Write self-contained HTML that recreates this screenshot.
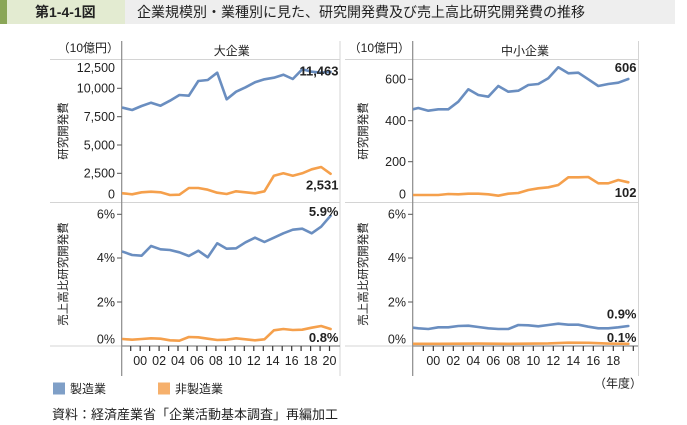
<!DOCTYPE html>
<html><head><meta charset="utf-8"><style>
html,body{margin:0;padding:0;background:#fff;}
svg{display:block;}
text{font-family:"Liberation Sans","Noto Sans CJK JP",sans-serif;fill:#222;}
</style></head><body>
<svg width="687" height="425" viewBox="0 0 687 425" xmlns="http://www.w3.org/2000/svg">
<defs>
<clipPath id="cl"><rect x="122" y="40" width="218" height="310"/></clipPath>
<clipPath id="cr"><rect x="413" y="40" width="225" height="310"/></clipPath>
</defs>
<!-- title bar -->
<rect x="0" y="0" width="675" height="24" fill="#eeeeee"/>
<rect x="0" y="0" width="125" height="24" fill="#e3ebd1"/>
<rect x="0" y="0" width="7" height="24" fill="#8aa657"/>
<text x="35" y="17" font-size="14" font-weight="bold" fill="#333">第1-4-1図</text>
<text x="137" y="17" font-size="14" fill="#333">企業規模別・業種別に見た、研究開発費及び売上高比研究開発費の推移</text>

<!-- frames -->
<g stroke="#d4d4d4" stroke-width="1" fill="none">
<line x1="50" y1="59.5" x2="340" y2="59.5"/>
<line x1="50" y1="202.5" x2="340" y2="202.5"/>
<line x1="50" y1="346" x2="122" y2="346"/>
<line x1="340" y1="41" x2="340" y2="376"/>
<line x1="345" y1="59.5" x2="638" y2="59.5"/>
<line x1="345" y1="202.5" x2="638" y2="202.5"/>
<line x1="345" y1="346" x2="413" y2="346"/>
<line x1="638.5" y1="41" x2="638.5" y2="376"/>
</g>
<g stroke="#8a8a8a" stroke-width="1.2" fill="none">
<line x1="121.7" y1="41" x2="121.7" y2="376"/>
<line x1="121.7" y1="346" x2="340" y2="346"/>
<line x1="412.7" y1="41" x2="412.7" y2="376"/>
<line x1="412.7" y1="346" x2="638" y2="346"/>
</g>
<!-- y ticks -->
<g stroke="#555" stroke-width="1">
<line x1="117" y1="88.3" x2="121.7" y2="88.3"/>
<line x1="117" y1="116.7" x2="121.7" y2="116.7"/>
<line x1="117" y1="145" x2="121.7" y2="145"/>
<line x1="117" y1="173.3" x2="121.7" y2="173.3"/>
<line x1="117" y1="214.3" x2="121.7" y2="214.3"/>
<line x1="117" y1="258" x2="121.7" y2="258"/>
<line x1="117" y1="302" x2="121.7" y2="302"/>
<line x1="408" y1="79.3" x2="412.7" y2="79.3"/>
<line x1="408" y1="120.7" x2="412.7" y2="120.7"/>
<line x1="408" y1="161.7" x2="412.7" y2="161.7"/>
<line x1="408" y1="214.3" x2="412.7" y2="214.3"/>
<line x1="408" y1="258" x2="412.7" y2="258"/>
<line x1="408" y1="302" x2="412.7" y2="302"/>
</g>
<!-- x ticks -->
<g stroke="#333" stroke-width="1.2">
<line x1="130.7" y1="346" x2="130.7" y2="351"/><line x1="140.2" y1="346" x2="140.2" y2="351"/><line x1="149.6" y1="346" x2="149.6" y2="351"/><line x1="159.1" y1="346" x2="159.1" y2="351"/><line x1="168.6" y1="346" x2="168.6" y2="351"/><line x1="178" y1="346" x2="178" y2="351"/><line x1="187.5" y1="346" x2="187.5" y2="351"/><line x1="197" y1="346" x2="197" y2="351"/><line x1="206.5" y1="346" x2="206.5" y2="351"/><line x1="215.9" y1="346" x2="215.9" y2="351"/><line x1="225.4" y1="346" x2="225.4" y2="351"/><line x1="234.9" y1="346" x2="234.9" y2="351"/><line x1="244.3" y1="346" x2="244.3" y2="351"/><line x1="253.8" y1="346" x2="253.8" y2="351"/><line x1="263.3" y1="346" x2="263.3" y2="351"/><line x1="272.7" y1="346" x2="272.7" y2="351"/><line x1="282.2" y1="346" x2="282.2" y2="351"/><line x1="291.7" y1="346" x2="291.7" y2="351"/><line x1="301.1" y1="346" x2="301.1" y2="351"/><line x1="310.6" y1="346" x2="310.6" y2="351"/><line x1="320.1" y1="346" x2="320.1" y2="351"/><line x1="329.5" y1="346" x2="329.5" y2="351"/>
<line x1="423.3" y1="346" x2="423.3" y2="351"/><line x1="433.3" y1="346" x2="433.3" y2="351"/><line x1="443.3" y1="346" x2="443.3" y2="351"/><line x1="453.3" y1="346" x2="453.3" y2="351"/><line x1="463.3" y1="346" x2="463.3" y2="351"/><line x1="473.3" y1="346" x2="473.3" y2="351"/><line x1="483.3" y1="346" x2="483.3" y2="351"/><line x1="493.3" y1="346" x2="493.3" y2="351"/><line x1="503.3" y1="346" x2="503.3" y2="351"/><line x1="513.3" y1="346" x2="513.3" y2="351"/><line x1="523.3" y1="346" x2="523.3" y2="351"/><line x1="533.3" y1="346" x2="533.3" y2="351"/><line x1="543.3" y1="346" x2="543.3" y2="351"/><line x1="553.3" y1="346" x2="553.3" y2="351"/><line x1="563.3" y1="346" x2="563.3" y2="351"/><line x1="573.3" y1="346" x2="573.3" y2="351"/><line x1="583.3" y1="346" x2="583.3" y2="351"/><line x1="593.3" y1="346" x2="593.3" y2="351"/><line x1="603.3" y1="346" x2="603.3" y2="351"/><line x1="613.3" y1="346" x2="613.3" y2="351"/><line x1="623.3" y1="346" x2="623.3" y2="351"/><line x1="633.3" y1="346" x2="633.3" y2="351"/>
</g>

<!-- header texts -->
<text x="119" y="52" font-size="12" text-anchor="end">（10億円）</text>
<text x="231.7" y="55" font-size="12" text-anchor="middle">大企業</text>
<text x="410" y="52" font-size="12" text-anchor="end">（10億円）</text>
<text x="525" y="55" font-size="12" text-anchor="middle">中小企業</text>

<!-- y tick labels -->
<g font-size="12.5" text-anchor="end">
<text x="115" y="72">12,500</text>
<text x="115" y="92.6">10,000</text>
<text x="115" y="121">7,500</text>
<text x="115" y="149.3">5,000</text>
<text x="115" y="177.6">2,500</text>
<text x="115" y="198.3">0</text>
<text x="115" y="218.6">6%</text>
<text x="115" y="262">4%</text>
<text x="115" y="306.6">2%</text>
<text x="115" y="343.3">0%</text>
<text x="406" y="83.6">600</text>
<text x="406" y="125">400</text>
<text x="406" y="166">200</text>
<text x="406" y="198.3">0</text>
<text x="406" y="218.6">6%</text>
<text x="406" y="262">4%</text>
<text x="406" y="306.6">2%</text>
<text x="406" y="343.3">0%</text>
</g>
<!-- x tick labels -->
<g font-size="12.5" text-anchor="middle">
<text x="140.2" y="365">00</text><text x="159.1" y="365">02</text><text x="178" y="365">04</text><text x="197" y="365">06</text><text x="215.9" y="365">08</text><text x="234.9" y="365">10</text><text x="253.8" y="365">12</text><text x="272.7" y="365">14</text><text x="291.7" y="365">16</text><text x="310.6" y="365">18</text><text x="329.5" y="365">20</text>
<text x="433.3" y="365">00</text><text x="453.3" y="365">02</text><text x="473.3" y="365">04</text><text x="493.3" y="365">06</text><text x="513.3" y="365">08</text><text x="533.3" y="365">10</text><text x="553.3" y="365">12</text><text x="573.3" y="365">14</text><text x="593.3" y="365">16</text><text x="613.3" y="365">18</text>
</g>

<!-- axis titles -->
<g font-size="11.5" text-anchor="middle">
<text transform="translate(67,131) rotate(-90)">研究開発費</text>
<text transform="translate(67,274) rotate(-90)">売上高比研究開発費</text>
<text transform="translate(367,131) rotate(-90)">研究開発費</text>
<text transform="translate(367,274) rotate(-90)">売上高比研究開発費</text>
</g>

<!-- series -->
<g fill="none" stroke-width="2.6" stroke-linejoin="round" stroke-linecap="round">
<g clip-path="url(#cl)">
<polyline stroke="#6a8ec0" points="122.7,107.7 132.15,110 141.6,106 151.05,102.7 160.5,105.7 169.95,100.7 179.4,95 188.85,95.7 198.3,81 207.75,80 217.2,72.7 226.65,99.3 236.1,91.7 245.55,87.3 255,82.3 264.45,79.3 273.9,77.7 283.35,74.7 292.8,79 302.25,69.3 311.7,71.7 321.15,72.7 330.6,71.8"/>
<polyline stroke="#f5a04c" points="122.7,193.3 132.15,194.3 141.6,192.3 151.05,191.7 160.5,192.3 169.95,195 179.4,194.7 188.85,188 198.3,188 207.75,189.7 217.2,192.7 226.65,194 236.1,191.3 245.55,192.3 255,193.3 264.45,191.3 273.9,175.7 283.35,173.3 292.8,175.7 302.25,173.3 311.7,169.3 321.15,167 330.6,173.8"/>
<polyline stroke="#6a8ec0" points="122.7,251.7 132.15,255 141.6,255.7 151.05,246 160.5,249.3 169.95,250 179.4,252.3 188.85,256 198.3,250.7 207.75,257.3 217.2,243.3 226.65,248.7 236.1,248.3 245.55,242.3 255,237.7 264.45,242 273.9,237.7 283.35,233.3 292.8,229.7 302.25,228.7 311.7,233.3 321.15,226.7 330.6,215.7"/>
<polyline stroke="#f5a04c" points="122.7,339 132.15,339.7 141.6,339 151.05,338.3 160.5,338.7 169.95,340.3 179.4,340.7 188.85,337 198.3,337.3 207.75,338.7 217.2,340 226.65,339.7 236.1,338.3 245.55,339.3 255,340.3 264.45,339.3 273.9,330.3 283.35,329 292.8,330 302.25,329.7 311.7,327.7 321.15,326 330.6,329"/>
</g>
<g clip-path="url(#cr)">
<polyline stroke="#6a8ec0" points="412.7,109.3 418.3,108 428.3,110.7 438.3,109.3 448.3,109.3 458.3,101.7 468.3,89.3 478.3,95 488.3,96.7 498.3,86 508.3,91.7 518.3,90.7 528.3,85 538.3,84 548.3,78.3 558.3,67.3 568.3,73.3 578.3,72.7 588.3,79.3 598.3,86 608.3,84 618.3,82.7 628.3,79"/>
<polyline stroke="#f5a04c" points="412.7,195 418.3,195 428.3,195 438.3,195 448.3,194 458.3,194.3 468.3,193.7 478.3,193.7 488.3,194.3 498.3,195.7 508.3,193.7 518.3,193 528.3,190 538.3,188.3 548.3,187.3 558.3,185 568.3,177.3 578.3,177.3 588.3,177 598.3,183.3 608.3,183.3 618.3,180 628.3,182.3"/>
<polyline stroke="#6a8ec0" points="412.7,327.7 418.3,328.3 428.3,329 438.3,327.3 448.3,327.3 458.3,326 468.3,325.7 478.3,327 488.3,328.3 498.3,329 508.3,329 518.3,325 528.3,325.3 538.3,326.3 548.3,325 558.3,323.7 568.3,324.7 578.3,324.7 588.3,326.7 598.3,328.3 608.3,328.3 618.3,327.3 628.3,326"/>
<polyline stroke="#f5a04c" points="412.7,343.8 438.3,343.8 478.3,343.6 508.3,343.8 548.3,343.4 568.3,342.7 588.3,342.8 608.3,343.6 628.3,343.8"/>
</g>
</g>

<!-- end labels -->
<g font-size="13" font-weight="bold" text-anchor="end" fill="#111">
<text x="338.5" y="75.5">11,463</text>
<text x="338.5" y="189.5">2,531</text>
<text x="338.5" y="216.2">5.9%</text>
<text x="338.5" y="342.2">0.8%</text>
<text x="636.5" y="72.2">606</text>
<text x="636.5" y="197.2">102</text>
<text x="636.5" y="318.5">0.9%</text>
<text x="636.5" y="342.2">0.1%</text>
</g>

<!-- legend -->
<rect x="53" y="382.5" width="12" height="12" fill="#7f9fc7"/>
<text x="70" y="393" font-size="12">製造業</text>
<rect x="158" y="382.5" width="12" height="12" fill="#f6b06c"/>
<text x="175" y="393" font-size="12">非製造業</text>
<text x="642" y="387.5" font-size="12" text-anchor="end">（年度）</text>

<text x="52" y="419" font-size="13">資料：経済産業省「企業活動基本調査」再編加工</text>
</svg>
</body></html>
